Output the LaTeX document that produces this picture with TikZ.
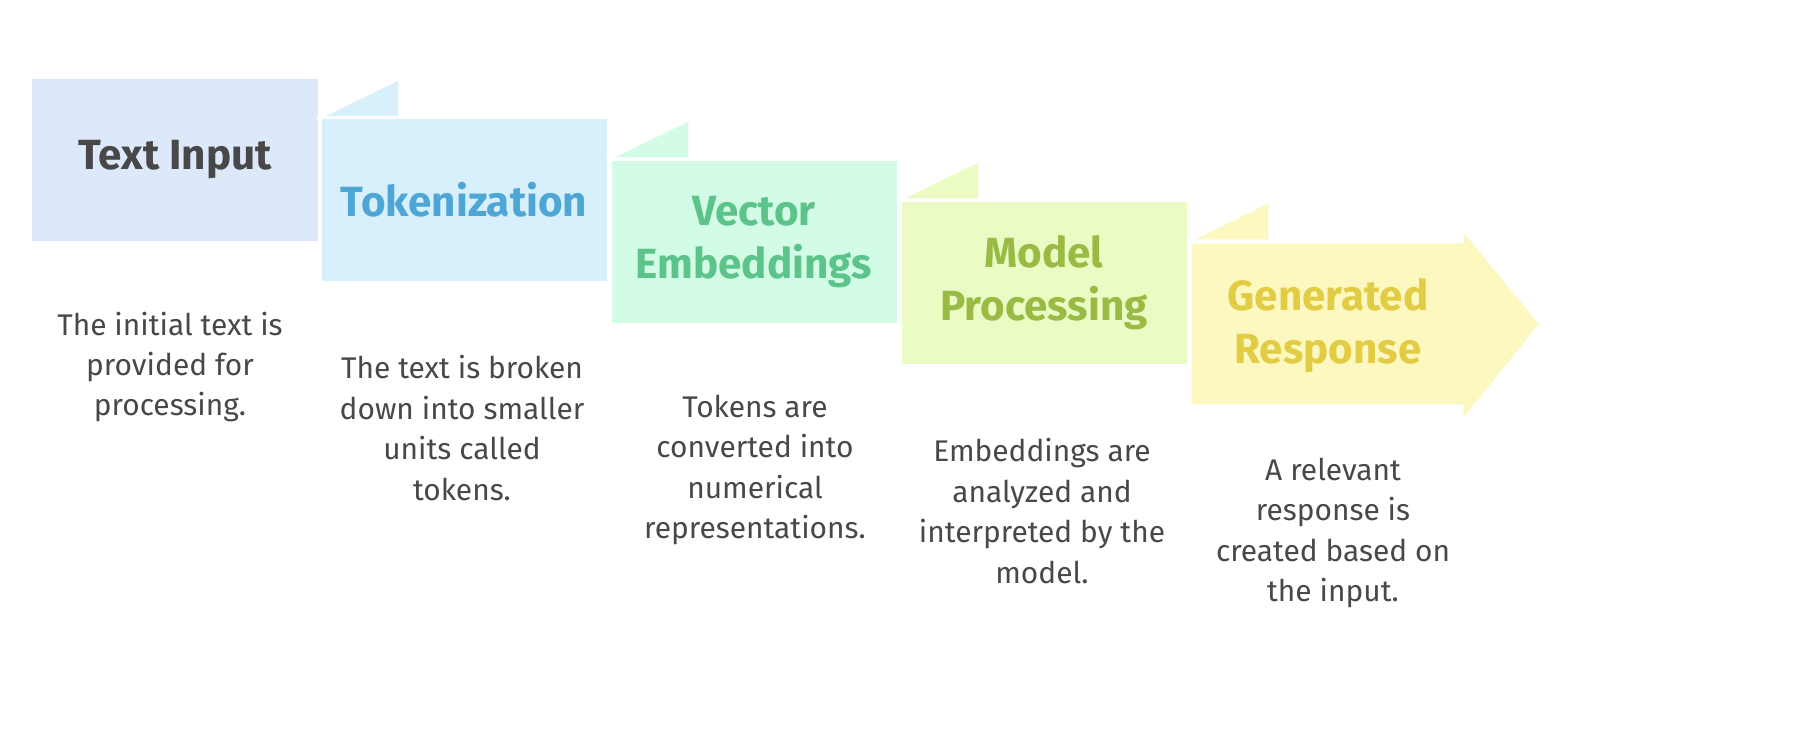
\documentclass[tikz,border=0pt]{standalone}
\usepackage{fontspec}
\setmainfont{Fira Sans}
\usetikzlibrary{positioning,calc}
\definecolor{fillA}{HTML}{DEE8FB}
\definecolor{fillB}{HTML}{D8F0FC}
\definecolor{fillC}{HTML}{D2FCE6}
\definecolor{fillD}{HTML}{EBFBC4}
\definecolor{fillE}{HTML}{FDF7C0}
\definecolor{inkA}{HTML}{484848}
\definecolor{inkB}{HTML}{4EA6D6}
\definecolor{inkC}{HTML}{5CC38A}
\definecolor{inkD}{HTML}{99BB44}
\definecolor{inkE}{HTML}{E2CC44}
\definecolor{textGray}{HTML}{484848}
\begin{document}
\begin{tikzpicture}[x=0.01cm,y=-0.01cm]
    \tikzstyle{every node} = [font=\fontsize{8.5}{11.5}\selectfont, text=textGray]
    \tikzstyle{stage} = [rectangle, draw=white, line width=0.9pt, minimum width=2.88cm, minimum height=1.65cm, inner sep=0pt]
    \tikzstyle{fold} = [draw=white, line width=0.9pt, line join=round]
    \tikzstyle{title} = [font=\fontsize{12}{15}\selectfont\bfseries, align=center]
    \tikzstyle{desc} = [align=center]
    % place stages
    \node[stage,fill=fillA] (textInput) at (175,160) {};
    \fill[fillB,fold] (318,118) -- (400,78) -- (400,118) -- cycle;
    \node[stage,fill=fillB] (tokenization) at (464,200) {};
    \fill[fillC,fold] (608,159) -- (690,119) -- (690,159) -- cycle;
    \node[stage,fill=fillC] (embeddings) at (754,242) {};
    \fill[fillD,fold] (898,200) -- (980,160) -- (980,200) -- cycle;
    \node[stage,fill=fillD] (processing) at (1044,283) {};
    \fill[fillE,fold] (1188,241) -- (1270,201) -- (1270,241) -- cycle;
    \fill[fillE,fold] (1190,242) -- (1462,242) -- (1462,228) -- (1541,324)
        -- (1462,422) -- (1462,406) -- (1190,406) -- cycle;
    \coordinate (response) at (1328,326);
    % titles
    \node[title,text=inkA] at (textInput) {Text Input};
    \node[title,text=inkB] at (tokenization) {Tokenization};
    \node[title,text=inkC] at (embeddings) {Vector\\Embeddings};
    \node[title,text=inkD] at (processing) {Model\\Processing};
    \node[title,text=inkE] at (response) {Generated\\Response};
    % descriptions
    \node[desc] (descA) at (170,367) {The initial text is\\provided for\\processing.};
    \node[desc] (descB) at (462,428) {The text is broken\\down into smaller\\units called\\tokens.};
    \node[desc] (descC) at (755,470) {Tokens are\\converted into\\numerical\\representations.};
    \node[desc] (descD) at (1042,511) {Embeddings are\\analyzed and\\interpreted by the\\model.};
    \node[desc] (descE) at (1333,533) {A relevant\\response is\\created based on\\the input.};
    \pgfresetboundingbox
    \useasboundingbox (0,0) rectangle (1816,746);
\end{tikzpicture}
\end{document}
